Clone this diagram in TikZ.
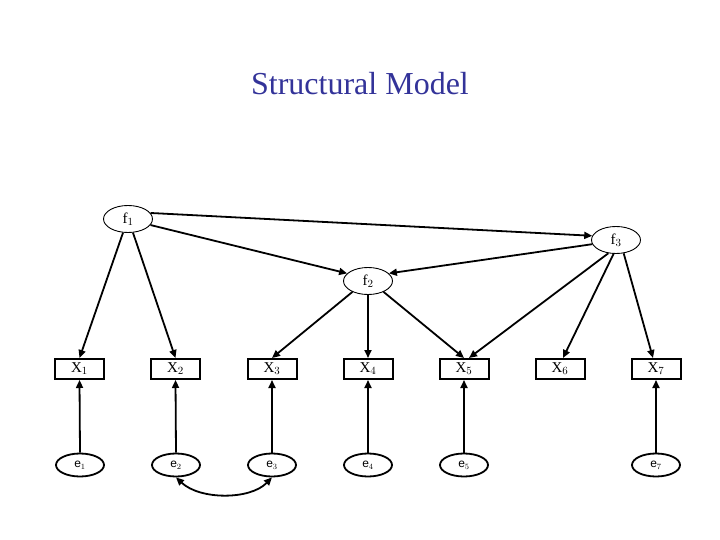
\documentclass[tikz,border=0pt]{standalone}
\usepackage{fontspec}
\setmainfont{Liberation Serif}
\newfontfamily\arialf{Liberation Sans}
\usetikzlibrary{arrows.meta,shapes.geometric}
\definecolor{titleblue}{RGB}{51,51,153}
\newcommand{\lowlab}[1]{\raisebox{-4pt}{#1}}
\begin{document}
\begin{tikzpicture}[x=1pt,y=-1pt,
  factor/.style={draw,ellipse,line width=0.9pt,minimum width=49pt,minimum height=27pt,inner sep=0pt,font=\fontsize{15}{15}\selectfont},
  obsbox/.style={draw,rectangle,line width=2pt,minimum width=49pt,minimum height=20pt,inner sep=0pt,font=\fontsize{15}{15}\selectfont},
  errnode/.style={draw,ellipse,line width=1.8pt,minimum width=48pt,minimum height=23pt,inner sep=0pt,font=\arialf\fontsize{12}{12}\selectfont},
  arr/.style={line width=1.8pt,-{Triangle[length=8pt,width=7pt]}},
  darr/.style={line width=1.8pt,{Triangle[length=8pt,width=7pt]}-{Triangle[length=8pt,width=7pt]}}]
\useasboundingbox (0,0) rectangle (720,540);
\node[text=titleblue,font=\fontsize{32}{32}\selectfont] (title) at (360,84) {Structural Model};
\node[factor] (f1) at (128,219) {\lowlab{f$_1$}};
\node[factor] (f3) at (616,240) {\lowlab{f$_3$}};
\node[factor] (f2) at (368,281) {\lowlab{f$_2$}};
\foreach \i/\x in {1/79.5,2/175.5,3/272,4/368,5/464,6/560,7/656}{
  \node[obsbox] (X\i) at (\x,369) {\raisebox{-2pt}{X$_\i$}};
}
\foreach \i/\x in {1/80,2/176,3/272,4/368,5/464,7/656}{
  \node[errnode] (e\i) at (\x,465) {\raisebox{-3pt}{e$_\i$}};
  \draw[arr] (e\i.north) -- (X\i.south);
}
\draw[darr] (e2.south) .. controls (200,500) and (250,500) .. (e3.south);
\draw[arr] (f1.250) -- (X1.north);
\draw[arr] (f1.290) -- (X2.north);
\draw[arr] (f1.15) -- (f3.170);
\draw[arr] (f1.345) -- (f2.160);
\draw[arr] (f3.190) -- (f2.20);
\draw[arr] (f2.215) -- (X3.north);
\draw[arr] (f2.south) -- (X4.north);
\draw[arr] (f2.325) -- (X5.north);
\draw[arr] (f3.240) -- ([xshift=5pt]X5.north);
\draw[arr] (f3.260) -- ([xshift=3pt]X6.north);
\draw[arr] (f3.300) -- ([xshift=-3pt]X7.north);
\end{tikzpicture}
\end{document}
